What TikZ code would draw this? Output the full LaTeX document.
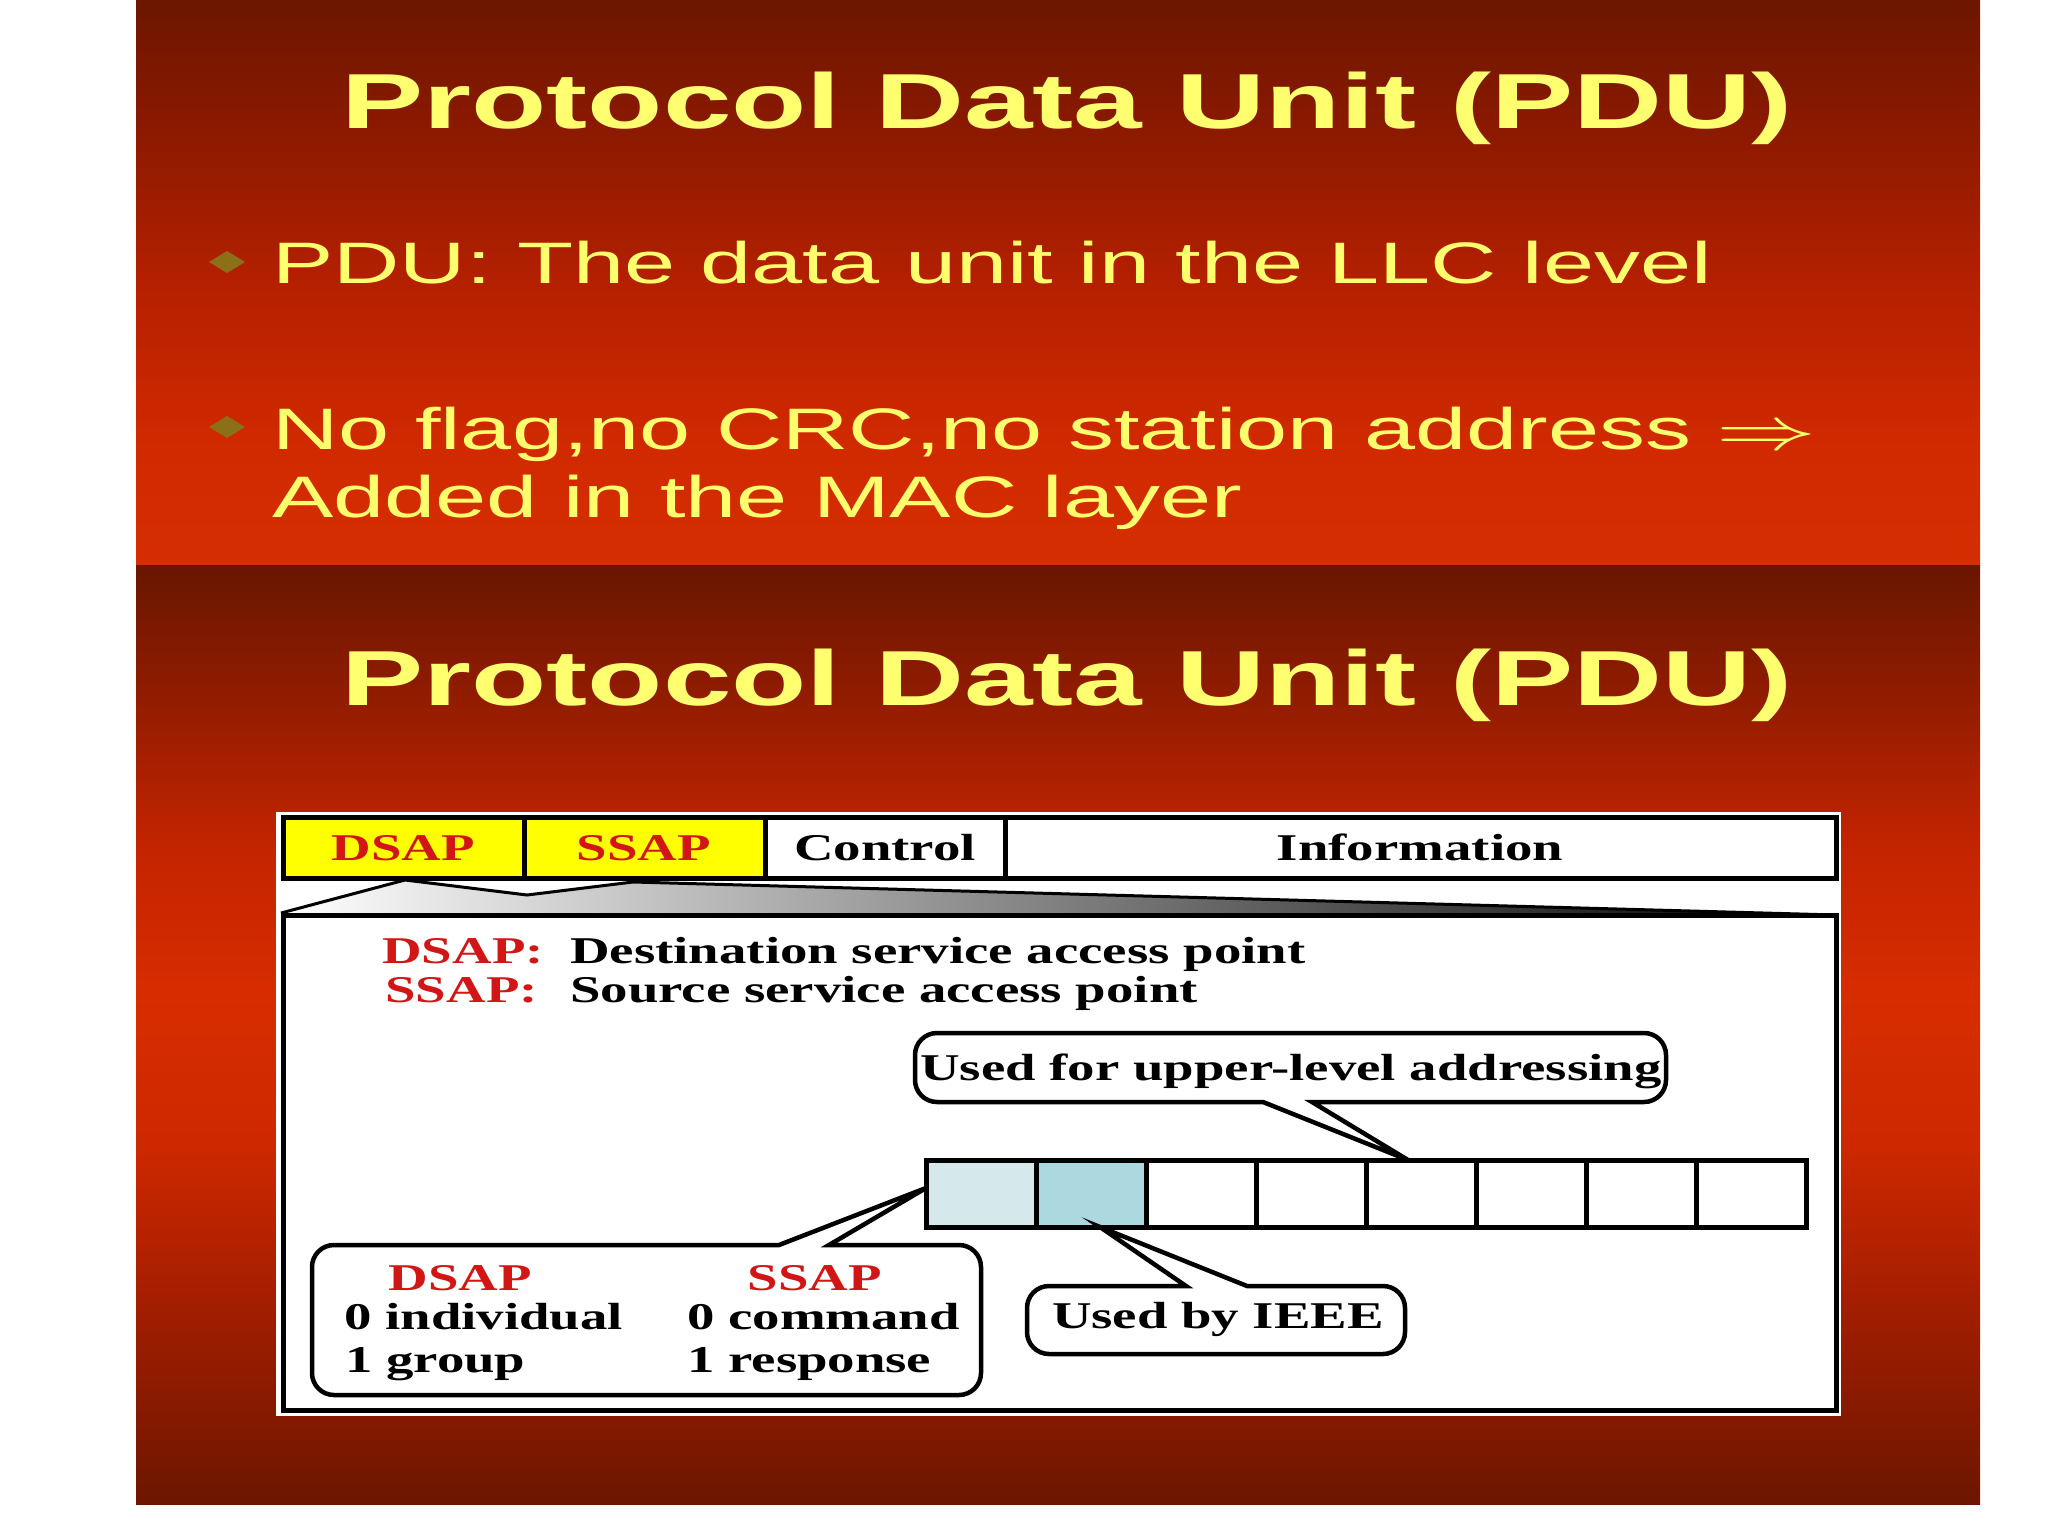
\documentclass[tikz,border=0pt]{standalone}
\usepackage{fontspec}
\newfontfamily\slidefont[FakeStretch=1.57]{Liberation Sans}
\newfontfamily\titlefont[FakeStretch=1.58]{Liberation Sans}
\newfontfamily\figfont[FakeStretch=1.45]{Liberation Serif}
\definecolor{titleyellow}{RGB}{255,255,112}
\definecolor{slideyellow}{RGB}{255,255,110}
\definecolor{slideolive}{RGB}{139,112,24}
\definecolor{dred}{RGB}{210,22,22}
\definecolor{hdryellow}{RGB}{255,255,0}
\definecolor{cellA}{RGB}{214,233,234}
\definecolor{cellB}{RGB}{172,217,223}
% pgf maps the 25bp..75bp band of a shading onto the path
\pgfdeclareverticalshading{topslide}{100bp}{%
  rgb(0bp)=(0.831,0.180,0.008); rgb(25bp)=(0.831,0.180,0.008); rgb(35bp)=(0.824,0.165,0);
  rgb(50bp)=(0.706,0.125,0); rgb(65bp)=(0.529,0.098,0); rgb(75bp)=(0.424,0.086,0);
  rgb(100bp)=(0.424,0.086,0)}
\pgfdeclareverticalshading{botslide}{100bp}{%
  rgb(0bp)=(0.424,0.086,0); rgb(25bp)=(0.424,0.086,0); rgb(36bp)=(0.647,0.118,0);
  rgb(44bp)=(0.804,0.157,0); rgb(52bp)=(0.843,0.176,0); rgb(60bp)=(0.765,0.141,0);
  rgb(68bp)=(0.569,0.110,0); rgb(75bp)=(0.412,0.086,0); rgb(100bp)=(0.412,0.086,0)}
\tikzset{
  titletxt/.style={text=titleyellow, inner sep=0pt, font=\titlefont\bfseries\fontsize{78}{90}\selectfont},
  slidetxt/.style={text=slideyellow, inner sep=0pt, font=\slidefont\fontsize{58.5}{70}\selectfont},
  figtxt/.style={text=black, inner sep=0pt, font=\figfont\bfseries\fontsize{37.8}{45}\selectfont},
  figredtxt/.style={figtxt, text=dred},
  thickline/.style={line width=5pt},
  calloutline/.style={line width=4.5pt, fill=white},
}
\begin{document}
\begin{tikzpicture}[x=1pt,y=-1pt]
\useasboundingbox (0,0) rectangle (2048,1536);
\fill[white] (0,0) rectangle (2048,1536);
% slide backgrounds
\shade[shading=topslide] (136,0) rectangle (1980,565);
\shade[shading=botslide] (136,565) rectangle (1980,1504);

% ---- top slide ----
\node[titletxt, anchor=base] (t1) at (1067,129) {Protocol Data Unit (PDU)};
\fill[slideolive] (209,262) -- (227,251) -- (245,262) -- (227,273) -- cycle;
\fill[slideolive] (209,427) -- (227,416) -- (245,427) -- (227,438) -- cycle;
\node[slidetxt, anchor=base west] (b1) at (272,283) {PDU: The data unit in the LLC level};
\node[slidetxt, anchor=base west] (b2) at (272,449) {No flag,no CRC,no station address \scalebox{10}[6]{\fontsize{10}{12}\selectfont$\Rightarrow$}};
\node[slidetxt, anchor=base west] (b3) at (272,517) {Added in the MAC layer};

% ---- bottom slide ----
\node[titletxt, anchor=base] (t2) at (1067,705) {Protocol Data Unit (PDU)};

% figure background
\fill[white] (276,812) rectangle (1841,1416);
% header row
\fill[hdryellow] (283,817) rectangle (765,878);
\draw[thickline] (283,817) rectangle (1836,878);
\draw[thickline] (524,817) -- (524,878) (765,817) -- (765,878) (1005,817) -- (1005,878);
\node[figredtxt, anchor=base] (hd) at (403,860) {DSAP};
\node[figredtxt, anchor=base] (hs) at (644,860) {SSAP};
\node[figtxt, anchor=base] (hc) at (885,860) {Control};
\node[figtxt, anchor=base] (hi) at (1420,860) {Information};

% fan
\shade[left color=white, right color=black] (281,915) -- (405,880) -- (527,895) -- (633,882) -- (1836,915) -- cycle;
\draw[line width=3pt] (281,913) -- (405,880) -- (527,895) -- (633,882) -- (1836,915);

% detail box
\draw[thickline] (283,915) rectangle (1836,1410);
\node[figredtxt, anchor=base east] (ld) at (544,963) {DSAP:};
\node[figtxt, anchor=base west] (ldt) at (570,963) {Destination service access point};
\node[figredtxt, anchor=base east] (ls) at (538,1002) {SSAP:};
\node[figtxt, anchor=base west] (lst) at (570,1002) {Source service access point};

% bit cells
\fill[cellA] (926,1160) rectangle (1036,1227);
\fill[cellB] (1036,1160) rectangle (1146,1227);
\foreach \i in {0,...,7}
  \draw[thickline] ({926+110*\i},1160) rectangle ({1036+110*\i},1227);

% callout: upper-level addressing
\draw[calloutline] (1312,1102) [rounded corners=22pt] -- (1666,1102) -- (1666,1033) -- (915,1033) -- (915,1102) -- (1200,1102) [sharp corners] -- (1263,1102) -- (1408,1160) -- cycle;
\node[figtxt, anchor=base west] (upt) at (920,1080) {Used for upper-level addressing};

% callout: used by IEEE
\draw[calloutline] (1247,1286) [rounded corners=22pt] -- (1405,1286) -- (1405,1354) -- (1027,1354) -- (1027,1286) -- (1120,1286) [sharp corners] -- (1186,1286) -- (1100,1227) -- cycle;
\node[figtxt, anchor=base] (iee) at (1218,1328) {Used by IEEE};

% callout: DSAP / SSAP bits
\draw[calloutline] (829,1245) [rounded corners=22pt] -- (981,1245) -- (981,1395) -- (312,1395) -- (312,1245) -- (700,1245) [sharp corners] -- (779,1245) -- (926,1188) -- cycle;
\node[figredtxt, anchor=base] (cd) at (460,1290) {DSAP};
\node[figredtxt, anchor=base] (cs) at (815,1290) {SSAP};
\node[figtxt, anchor=base west] (c0i) at (344,1329) {0 individual};
\node[figtxt, anchor=base west] (c1g) at (345,1372) {1 group};
\node[figtxt, anchor=base west] (c0c) at (687,1329) {0 command};
\node[figtxt, anchor=base west] (c1r) at (687,1372) {1 response};
\end{tikzpicture}
\end{document}
